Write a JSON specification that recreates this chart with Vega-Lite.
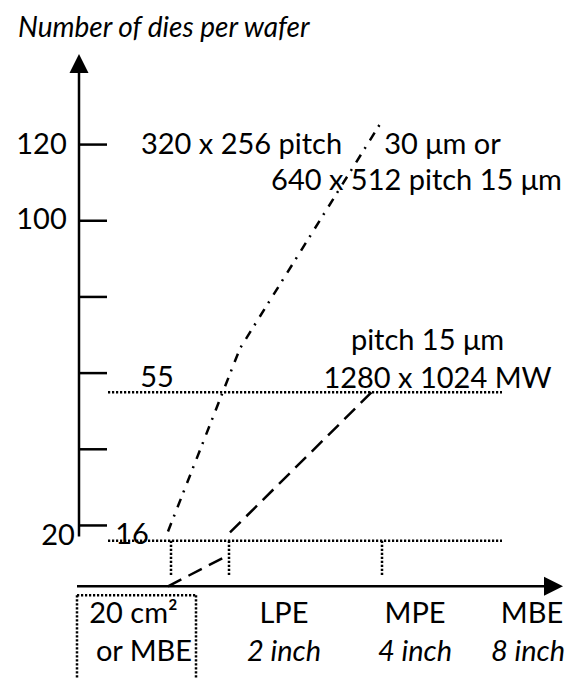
{
  "$schema": "https://vega.github.io/schema/vega-lite/v6.json",
  "description": "Number of dies per wafer by wafer size / growth method (schematic).",
  "width": 578,
  "height": 680,
  "padding": 0,
  "autosize": {"type": "fit", "contains": "padding"},
  "config": {"view": {"stroke": null}, "text": {"font": "Lato", "fontSize": 29, "color": "#000"}},
  "datasets": {
    "solid": [
      {"x": 0, "y": 17.1, "x2": 0, "y2": 139},
      {"x": -0.4, "y": 4.03, "x2": 93.2, "y2": 4.03},
      {"x": 0, "y": 20, "x2": 5.6, "y2": 20},
      {"x": 0, "y": 40, "x2": 5.6, "y2": 40},
      {"x": 0, "y": 60, "x2": 5.6, "y2": 60},
      {"x": 0, "y": 80, "x2": 5.6, "y2": 80},
      {"x": 0, "y": 100, "x2": 5.6, "y2": 100},
      {"x": 0, "y": 120, "x2": 5.6, "y2": 120}
    ],
    "arrows": [
      {"x": 0, "y": 141.3, "dir": "up"},
      {"x": 94.9, "y": 4.03, "dir": "right"}
    ],
    "guides": [
      {"x": 5.8, "x2": 84.6, "y": 55, "y2": 55},
      {"x": 5.8, "x2": 84.6, "y": 16, "y2": 16},
      {"x": 18.4, "x2": 18.4, "y": 16, "y2": 6.9},
      {"x": 30, "x2": 30, "y": 16, "y2": 6.9},
      {"x": 60.6, "x2": 60.6, "y": 16, "y2": 6.9},
      {"x": -0.4, "x2": -0.4, "y": 1.68, "y2": -20.05},
      {"x": 23.4, "x2": 23.4, "y": 1.68, "y2": -20.05},
      {"x": -0.4, "x2": 23.4, "y": 1.68, "y2": 1.68}
    ],
    "dashed": [
      {"x": 17.8, "y": 4.03, "x2": 29.8, "y2": 12.15},
      {"x": 30.2, "y": 18.17, "x2": 59.2, "y2": 55.86}
    ],
    "dashdot": [
      {"x": 17.8, "y": 18.43, "order": 1},
      {"x": 32.2, "y": 66.5, "order": 2},
      {"x": 60.4, "y": 125.8, "order": 3}
    ],
    "labels": [
      {"role": "title", "text": "Number of dies per wafer", "x": -12.2, "y": 148.3},
      {"role": "tick", "text": "120", "x": -7.5, "y": 117.6},
      {"role": "tick", "text": "100", "x": -7.5, "y": 97.75},
      {"role": "tick", "text": "20", "x": -4.2, "y": 14.76},
      {"role": "note", "text": "320 x 256 pitch", "x": 32.5, "y": 117.6},
      {"role": "note", "text": "30 μm or", "x": 72.7, "y": 117.6},
      {"role": "note", "text": "640 x 512 pitch 15 μm", "x": 67.5, "y": 107.96},
      {"role": "note", "text": "pitch 15 μm", "x": 69.7, "y": 66.07},
      {"role": "note", "text": "1280 x 1024 MW", "x": 71.7, "y": 56.13},
      {"role": "note", "text": "55", "x": 15.6, "y": 56.39},
      {"role": "note", "text": "16", "x": 10.6, "y": 15.03},
      {"role": "method", "text": "20 cm²", "x": 10.9, "y": -5.65},
      {"role": "method", "text": "or MBE", "x": 13, "y": -15.6},
      {"role": "method", "text": "LPE", "x": 41, "y": -5.65},
      {"role": "method", "text": "MPE", "x": 67.2, "y": -5.65},
      {"role": "method", "text": "MBE", "x": 90.6, "y": -5.65},
      {"role": "size", "text": "2 inch", "x": 41, "y": -15.6},
      {"role": "size", "text": "4 inch", "x": 67.2, "y": -15.6},
      {"role": "size", "text": "8 inch", "x": 89.8, "y": -15.6}
    ]
  },
  "encoding": {
    "x": {"field": "x", "type": "quantitative", "axis": null,
          "scale": {"domain": [-15.8, 99.8], "nice": false, "zero": false}},
    "y": {"field": "y", "type": "quantitative", "axis": null,
          "scale": {"domain": [-20.05, 157.96], "nice": false, "zero": false}}
  },
  "layer": [
    {
      "data": {"name": "guides"},
      "mark": {"type": "rule", "color": "#000", "strokeWidth": 2.5, "strokeDash": [2.2, 1.8]},
      "encoding": {"x2": {"field": "x2"}, "y2": {"field": "y2"}}
    },
    {
      "data": {"name": "solid"},
      "mark": {"type": "rule", "color": "#000", "strokeWidth": 2.5},
      "encoding": {"x2": {"field": "x2"}, "y2": {"field": "y2"}}
    },
    {
      "data": {"name": "arrows"},
      "mark": {"type": "point", "filled": true, "color": "#000", "opacity": 1, "size": 361},
      "encoding": {
        "shape": {"field": "dir", "type": "nominal", "legend": null,
                  "scale": {"domain": ["up", "right"], "range": ["M0,-1L1,1L-1,1Z", "M-1,-1L1,0L-1,1Z"]}}
      }
    },
    {
      "data": {"name": "dashed"},
      "mark": {"type": "rule", "color": "#000", "strokeWidth": 2.5, "strokeDash": [15, 8]},
      "encoding": {"x2": {"field": "x2"}, "y2": {"field": "y2"}}
    },
    {
      "data": {"name": "dashdot"},
      "mark": {"type": "line", "color": "#000", "strokeWidth": 2.5, "strokeDash": [9, 7, 2, 8]},
      "encoding": {"order": {"field": "order"}}
    },
    {
      "data": {"name": "labels"},
      "transform": [{"filter": "datum.role === 'title'"}],
      "mark": {"type": "text", "align": "left", "baseline": "alphabetic", "fontStyle": "italic", "fontSize": 28},
      "encoding": {"text": {"field": "text"}}
    },
    {
      "data": {"name": "labels"},
      "transform": [{"filter": "datum.role === 'tick' || datum.role === 'note' || datum.role === 'method'"}],
      "mark": {"type": "text", "align": "center", "baseline": "alphabetic"},
      "encoding": {"text": {"field": "text"}}
    },
    {
      "data": {"name": "labels"},
      "transform": [{"filter": "datum.role === 'size'"}],
      "mark": {"type": "text", "align": "center", "baseline": "alphabetic", "fontStyle": "italic"},
      "encoding": {"text": {"field": "text"}}
    }
  ]
}
